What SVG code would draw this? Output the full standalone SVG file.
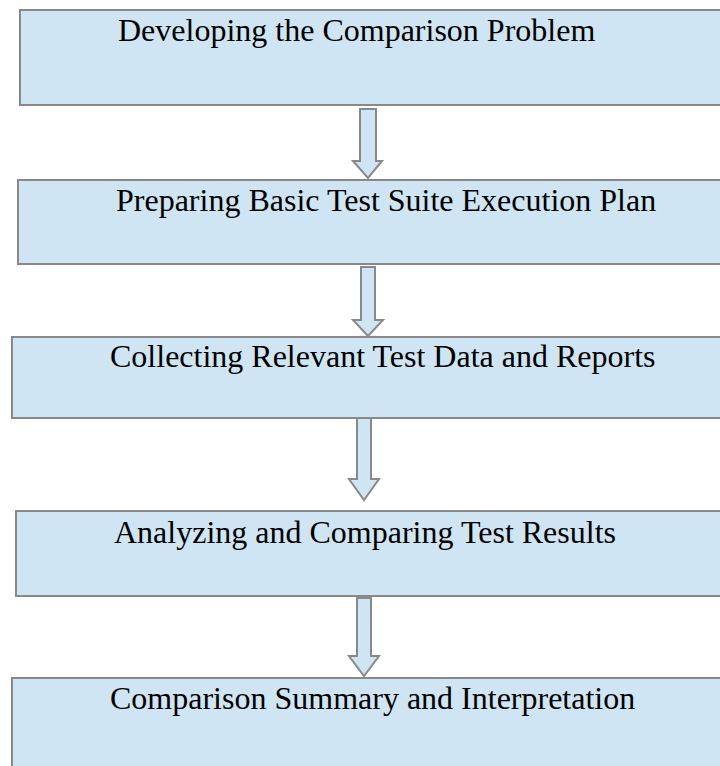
<svg xmlns="http://www.w3.org/2000/svg" width="720" height="766" viewBox="0 0 720 766">
  <style>
    .box { fill: #cfe5f3; stroke: #898989; stroke-width: 2; }
    .arrow { fill: #cfe5f3; stroke: #898989; stroke-width: 2; stroke-linejoin: miter; }
    .label { font-family: "Liberation Serif", "Times New Roman", serif; font-size: 32px; fill: #000000; }
  </style>
  <rect width="720" height="766" fill="#ffffff"/>

  <!-- block arrows between the steps -->
  <g id="connectors">
    <path class="arrow" d="M360,109 L376,109 L376,161 L382,161 L368,178 L353,161 L360,161 Z"/>
    <path class="arrow" d="M361,267 L375,267 L375,320 L383,320 L368,336 L353,320 L361,320 Z"/>
    <path class="arrow" d="M357,418 L371,418 L371,479 L379,479 L364,500 L349,479 L357,479 Z"/>
    <path class="arrow" d="M357,598 L371,598 L371,656 L379,656 L364,676 L349,656 L357,656 Z"/>
  </g>

  <g id="step1">
    <rect class="box" x="20" y="10" width="720" height="95"/>
    <text class="label" x="118" y="41">Developing the Comparison Problem</text>
  </g>

  <g id="step2">
    <rect class="box" x="18" y="180" width="722" height="84"/>
    <text class="label" x="116" y="211">Preparing Basic Test Suite Execution Plan</text>
  </g>

  <g id="step3">
    <rect class="box" x="12" y="337" width="728" height="81"/>
    <text class="label" x="110" y="367">Collecting Relevant Test Data and Reports</text>
  </g>

  <g id="step4">
    <rect class="box" x="16" y="511" width="724" height="85"/>
    <text class="label" x="114" y="543">Analyzing and Comparing Test Results</text>
  </g>

  <g id="step5">
    <rect class="box" x="12" y="678" width="728" height="100"/>
    <text class="label" x="110" y="709">Comparison Summary and Interpretation</text>
  </g>
</svg>
